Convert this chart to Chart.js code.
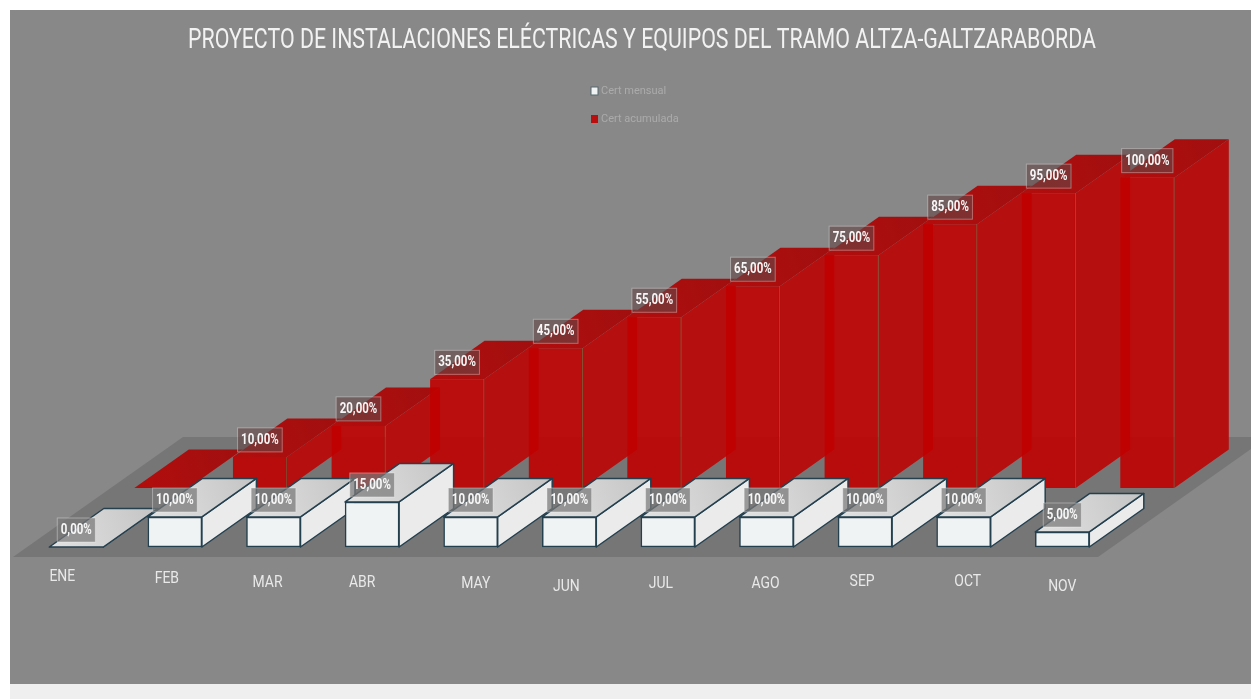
<!DOCTYPE html>
<html>
<head>
<meta charset="utf-8">
<title>Tramo Altza-Galtzaraborda</title>
<script src="https://cdn.jsdelivr.net/npm/chart.js@4"></script>
<style>
    html, body { margin: 0; padding: 0; background: #fff; overflow: hidden; }
    #strip { position: absolute; left: 10px; top: 684px; width: 1241px; height: 15px; background: #efefef; }
    #panel { position: absolute; left: 10px; top: 10px; width: 1241px; height: 674px; background: #888888; }
    #chart { position: absolute; left: 0; top: 0; }
</style>
</head>
<body>
<div id="strip"></div>
<div id="panel"></div>
<canvas id="chart" width="1251" height="699"></canvas>
<script>
const FONT = 'Roboto, sans-serif';

const titulo = 'PROYECTO DE INSTALACIONES ELÉCTRICAS Y EQUIPOS DEL TRAMO ALTZA-GALTZARABORDA';
const meses = ['ENE', 'FEB', 'MAR', 'ABR', 'MAY', 'JUN', 'JUL', 'AGO', 'SEP', 'OCT', 'NOV'];
const certMensual = [0, 10, 10, 15, 10, 10, 10, 10, 10, 10, 5];
const certAcumulada = [0, 10, 20, 35, 45, 55, 65, 75, 85, 95, 100];

// the month labels sit unevenly in the original
const mesNudgeX = [-14, -8, -6, -10, 5, -3, -7, -1, -3, 4, 0];
const mesNudgeY = [30, 32, 36, 36, 37, 40, 37, 37, 35, 35, 40];

// ── layout of the fake 3D ──
const AREA_TOP = 130, AREA_BOTTOM = 547, AREA_LEFT = 27, AREA_RIGHT = 1111.6;
const SLOT = (AREA_RIGHT - AREA_LEFT) / meses.length;
const BAR_W = 54;
const BACK_SHIFT_X = 85, BACK_BASE = 488, BACK_PX = 3.1, FRONT_PX = 3;
const DEPTH_X = 54.5, DEPTH_Y = -38.5;
const SQUEEZE = 0.82; // the original type is condensed, nothing installed is

function parallelogram(ctx, pts, fill, stroke) {
    ctx.beginPath();
    pts.forEach((p, i) => i ? ctx.lineTo(p[0], p[1]) : ctx.moveTo(p[0], p[1]));
    ctx.closePath();
    ctx.fillStyle = fill;
    ctx.fill();
    if (stroke) {
        ctx.strokeStyle = stroke;
        ctx.stroke();
    }
}

const depthPlugin = {
    id: 'depth',
    afterLayout(chart) {
        // title sits over the whole panel, and its box width also condenses the text
        chart.titleBlock.left = 188;
        chart.titleBlock.right = 1096;
    },
    beforeDatasetsDraw(chart) {
        const { ctx } = chart;
        const y0 = chart.scales.y.getPixelForValue(0) + 10;
        ctx.save();
        parallelogram(ctx, [[13, y0], [1098, y0], [1251, y0 - 108], [1251, y0 - 120], [183, y0 - 120]], '#767676');
        ctx.restore();
    },
    beforeDatasetDraw(chart, args) {
        const { ctx } = chart;
        const isFront = args.index === 0;
        ctx.save();
        ctx.lineWidth = 1.5;
        ctx.lineJoin = 'round';
        args.meta.data.forEach(bar => {
            const { x, y, base, width } = bar.getProps(['x', 'y', 'base', 'width'], true);
            const r = x + width / 2, l = x - width / 2;
            const topGrad = ctx.createLinearGradient(l, y, r + DEPTH_X, y + DEPTH_Y);
            if (isFront) {
                topGrad.addColorStop(0, '#e2e2e2');
                topGrad.addColorStop(1, '#c4c4c4');
            } else {
                topGrad.addColorStop(0, '#b30d0d');
                topGrad.addColorStop(1, '#a00f0f');
            }
            const edge = isFront ? '#24404f' : null;
            parallelogram(ctx, [[r, y], [r + DEPTH_X, y + DEPTH_Y], [r + DEPTH_X, base + DEPTH_Y], [r, base]],
                isFront ? '#ebebeb' : '#b50f0f', edge);
            parallelogram(ctx, [[l, y], [r, y], [r + DEPTH_X, y + DEPTH_Y], [l + DEPTH_X, y + DEPTH_Y]], topGrad, edge);
        });
        ctx.restore();
    },
    afterDraw(chart) {
        const { ctx } = chart;
        ctx.save();

        // month labels
        ctx.font = '17px ' + FONT;
        ctx.fillStyle = '#e9e9e9';
        ctx.textAlign = 'center';
        ctx.textBaseline = 'middle';
        const xs = chart.scales.x;
        meses.forEach((m, i) => {
            const tw = ctx.measureText(m).width * SQUEEZE;
            ctx.fillText(m, xs.getPixelForValue(i) + mesNudgeX[i], chart.chartArea.bottom + mesNudgeY[i], tw);
        });

        // value labels, red series first so the white ones stay on top
        [1, 0].forEach(dsIndex => {
            const values = chart.data.datasets[dsIndex].data;
            chart.getDatasetMeta(dsIndex).data.forEach((bar, i) => {
                const v = dsIndex === 0 ? values[i] : values[i].y;
                if (dsIndex === 1 && v === 0) return;
                const cx = bar.x, cy = bar.y - 17;
                const label = v.toFixed(2).replace('.', ',') + '%';
                ctx.font = 'bold 14px ' + FONT;
                const tw = ctx.measureText(label).width * SQUEEZE;
                const w = tw + 7;
                ctx.fillStyle = dsIndex === 0 ? 'rgba(120,120,120,0.72)' : 'rgba(100,70,70,0.62)';
                ctx.fillRect(cx - w / 2, cy - 12, w, 24);
                ctx.strokeStyle = 'rgba(255,255,255,0.35)';
                ctx.lineWidth = 1;
                ctx.strokeRect(cx - w / 2, cy - 12, w, 24);
                ctx.fillStyle = '#f7f7f7';
                ctx.fillText(label, cx, cy + 0.5, tw);
            });
        });

        // legend stacked in the middle of the panel
        ctx.textAlign = 'left';
        ctx.font = '11px ' + FONT;
        chart.data.datasets.forEach((ds, i) => {
            const ly = 91 + i * 28;
            ctx.fillStyle = ds.backgroundColor;
            ctx.fillRect(591, ly - 4, 7, 8);
            if (i === 0) {
                ctx.strokeStyle = '#55666f';
                ctx.lineWidth = 1;
                ctx.strokeRect(591, ly - 4, 7, 8);
            }
            ctx.fillStyle = '#ababab';
            ctx.fillText(ds.label, 601, ly);
        });
        ctx.restore();
    }
};

new Chart(document.getElementById('chart'), {
    type: 'bar',
    data: {
        labels: meses,
        datasets: [
            {
                label: 'Cert mensual',
                data: certMensual,
                backgroundColor: '#f0f3f4',
                borderColor: '#24404f',
                borderWidth: 1.5,
                borderSkipped: false,
                barThickness: BAR_W,
                grouped: false,
                clip: false,
                xAxisID: 'x',
                yAxisID: 'y'
            },
            {
                label: 'Cert acumulada',
                data: certAcumulada.map((v, i) => ({ x: i, y: v })),
                backgroundColor: 'rgba(192,0,0,0.9)',
                borderColor: 'rgba(120,70,20,0.6)',
                borderWidth: { right: 1 },
                borderSkipped: false,
                barThickness: BAR_W,
                grouped: false,
                clip: false,
                xAxisID: 'x1',
                yAxisID: 'y1'
            }
        ]
    },
    options: {
        responsive: false,
        animation: false,
        layout: { padding: { left: AREA_LEFT, right: 1251 - AREA_RIGHT, top: 0, bottom: 699 - AREA_BOTTOM } },
        plugins: {
            legend: { display: false },
            tooltip: { enabled: false },
            title: {
                display: true,
                text: titulo,
                color: '#f2f2f2',
                font: { family: FONT, size: 28, weight: 'normal', lineHeight: 1.2 },
                padding: { top: 24, bottom: AREA_TOP - 24 - 34 }
            }
        },
        scales: {
            x: { display: false },
            y: {
                display: false, bounds: 'data',
                min: 0, max: (AREA_BOTTOM - AREA_TOP) / FRONT_PX
            },
            x1: {
                type: 'linear', display: false, offset: false, bounds: 'data',
                min: -0.5 - BACK_SHIFT_X / SLOT,
                max: meses.length - 0.5 - BACK_SHIFT_X / SLOT
            },
            y1: {
                display: false, bounds: 'data',
                min: -(AREA_BOTTOM - BACK_BASE) / BACK_PX,
                max: (BACK_BASE - AREA_TOP) / BACK_PX
            }
        }
    },
    plugins: [depthPlugin]
});
</script>
</body>
</html>
